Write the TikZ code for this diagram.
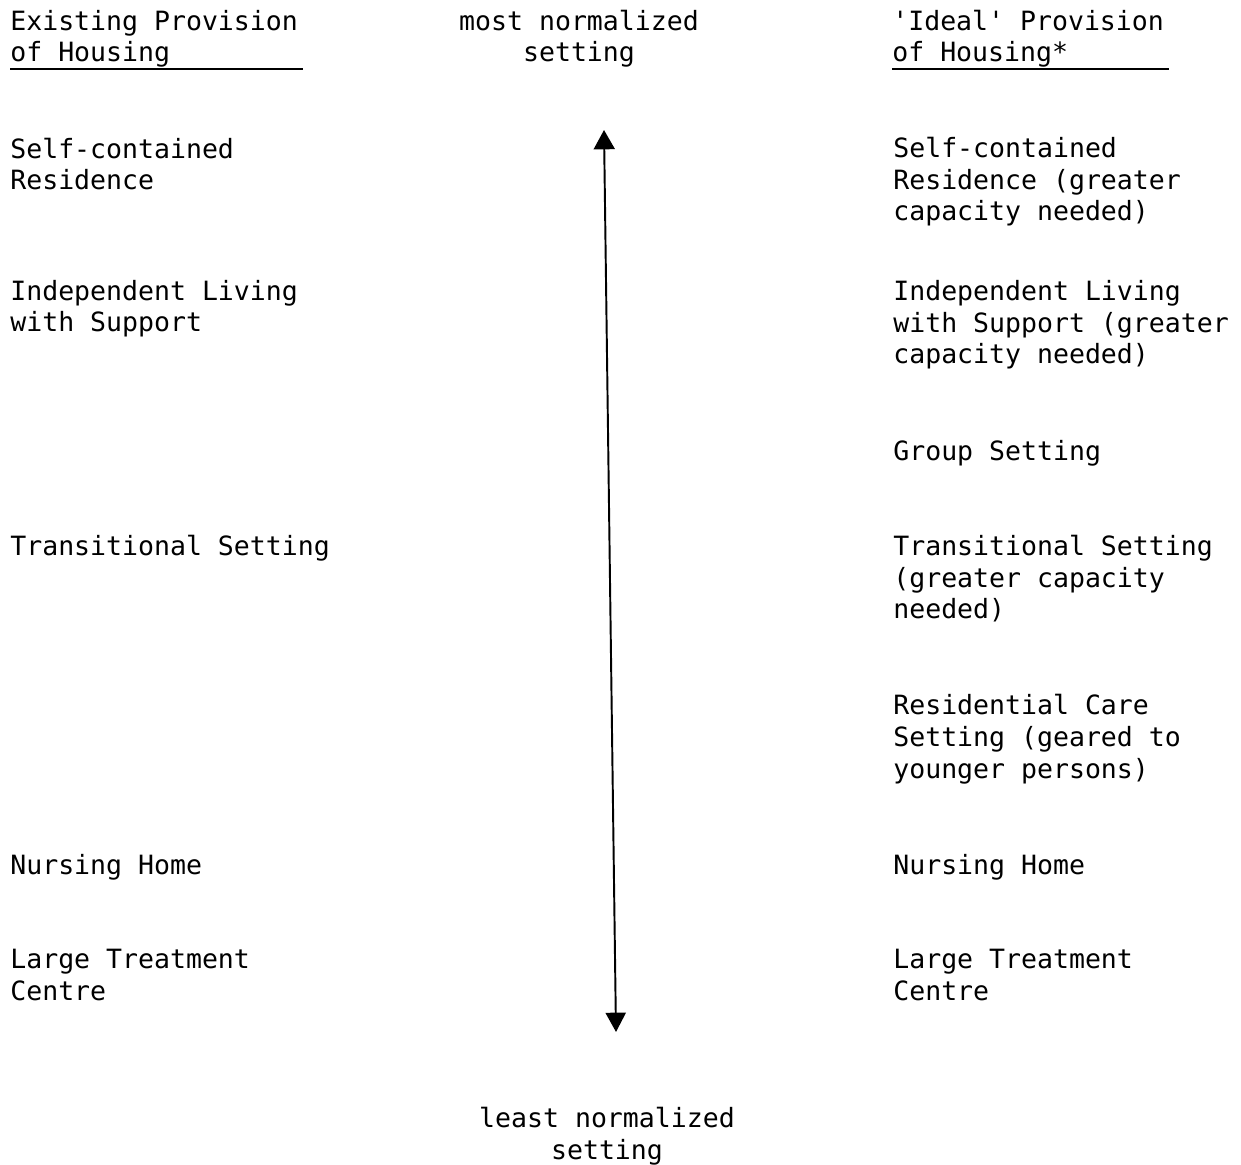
\documentclass[tikz,border=0pt]{standalone}
\usepackage{fontspec}
\setmainfont{DejaVu Sans Mono}[Ligatures=TeXOff]
\usetikzlibrary{arrows.meta}
\begin{document}
\begin{tikzpicture}[x=0.02cm,y=-0.02cm,
  lbl/.style={anchor=base west,inner sep=0pt,align=left,font=\fontsize{15.1}{18.2}\selectfont},
  ctr/.style={anchor=base,inner sep=0pt,align=center,font=\fontsize{15.1}{18.2}\selectfont},
  uline/.style={line width=0.8pt},
  axis/.style={line width=1.1pt,{Triangle[width=12pt,length=11pt]}-{Triangle[width=11.5pt,length=11pt]}}]
\useasboundingbox (0,0) rectangle (1241,1165);
% headings (positions give the baseline of the last line)
\node[lbl] (hl) at (10,62) {Existing Provision\\of Housing};
\node[ctr] (ht) at (579,62) {most normalized\\setting};
\node[lbl] (hr) at (892,62) {'Ideal' Provision\\of Housing*};
\coordinate (hlA) at (10,69); \coordinate (hlB) at (303,69);
\coordinate (hrA) at (892,69); \coordinate (hrB) at (1169,69);
\draw[uline] (hlA) -- (hlB);
\draw[uline] (hrA) -- (hrB);
% left column
\node[lbl] (l1) at (10,190) {Self-contained\\Residence};
\node[lbl] (l2) at (10,332) {Independent Living\\with Support};
\node[lbl] (l3) at (10,556) {Transitional Setting};
\node[lbl] (l4) at (10,874) {Nursing Home};
\node[lbl] (l5) at (10,1000) {Large Treatment\\Centre};
% right column
\node[lbl] (r1) at (893,221) {Self-contained\\Residence (greater\\capacity needed)};
\node[lbl] (r2) at (893,364) {Independent Living\\with Support (greater\\capacity needed)};
\node[lbl] (r3) at (893,461) {Group Setting};
\node[lbl] (r4) at (893,619) {Transitional Setting\\(greater capacity\\needed)};
\node[lbl] (r5) at (893,778) {Residential Care\\Setting (geared to\\younger persons)};
\node[lbl] (r6) at (893,874) {Nursing Home};
\node[lbl] (r7) at (893,1000) {Large Treatment\\Centre};
% bottom label
\node[ctr] (hb) at (607,1159) {least normalized\\setting};
% axis arrow
\coordinate (atop) at (604,130);
\coordinate (abot) at (616,1032);
\draw[axis] (atop) -- (abot);
\end{tikzpicture}
\end{document}
